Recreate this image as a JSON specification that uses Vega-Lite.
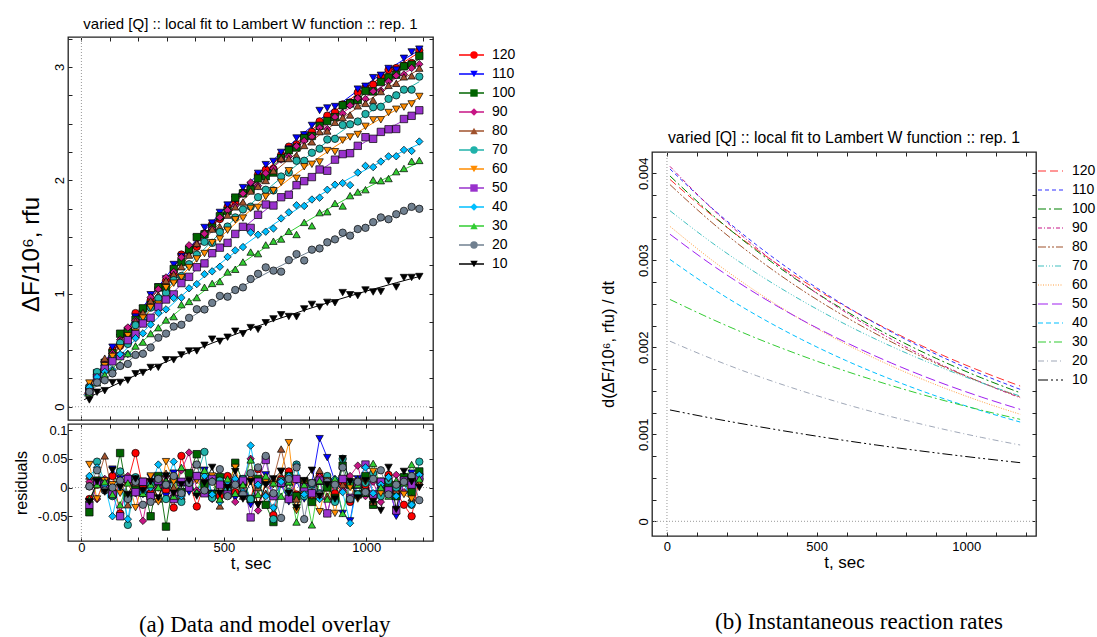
{
"$schema": "https://vega.github.io/schema/vega-lite/v6.json",
"background": "white",
"padding": {"left": 12, "top": 15, "right": 0, "bottom": 0},
"spacing": 82,
"resolve": {"scale": {"stroke": "independent", "fill": "independent", "shape": "independent", "strokeDash": "independent"}, "legend": {"stroke": "independent", "fill": "independent", "shape": "independent", "strokeDash": "independent"}},
"config": {
  "font": "Liberation Sans",
  "view": {"stroke": "#222", "strokeWidth": 1.3},
  "axis": {"domain": false, "grid": false, "ticks": true, "tickColor": "#222", "tickSize": -4, "tickWidth": 1, "labelFontSize": 13, "labelColor": "#000", "labelPadding": 6, "labelFlush": false, "labelOverlap": false, "titleFontSize": 17, "titleFontWeight": "normal", "titleColor": "#000", "labelFont": "Liberation Sans", "titleFont": "Liberation Sans"},
  "title": {"fontSize": 15, "fontWeight": "normal", "font": "Liberation Sans", "color": "#000"},
  "legend": {"labelFontSize": 14, "labelColor": "#000", "labelFont": "Liberation Sans", "padding": 0, "rowPadding": 5, "clipHeight": 14}
},
"datasets": {
"obs": [
{"s":120,"t":28,"y":0.16,"r":-0.02},{"s":120,"t":55,"y":0.286,"r":0.005},{"s":120,"t":82,"y":0.394,"r":0.012},{"s":120,"t":109,"y":0.502,"r":0.02},{"s":120,"t":136,"y":0.538,"r":-0.045},{"s":120,"t":163,"y":0.685,"r":0.01},{"s":120,"t":190,"y":0.827,"r":0.06},{"s":120,"t":216,"y":0.858,"r":0},{"s":120,"t":243,"y":0.94,"r":-0.01},{"s":120,"t":270,"y":1.05,"r":0.015},{"s":120,"t":297,"y":1.115,"r":-0.005},{"s":120,"t":324,"y":1.169,"r":-0.035},{"s":120,"t":351,"y":1.344,"r":0.055},{"s":120,"t":378,"y":1.377,"r":0.01},{"s":120,"t":405,"y":1.412,"r":-0.033},{"s":120,"t":432,"y":1.531,"r":0.008},{"s":120,"t":459,"y":1.613,"r":0.012},{"s":120,"t":486,"y":1.658,"r":-0.015},{"s":120,"t":513,"y":1.764,"r":0.02},{"s":120,"t":540,"y":1.808,"r":-0.008},{"s":120,"t":567,"y":1.892,"r":0.005},{"s":120,"t":594,"y":1.932,"r":-0.02},{"s":120,"t":620,"y":2.05,"r":0.032},{"s":120,"t":647,"y":2.093,"r":0.01},{"s":120,"t":674,"y":2.1,"r":-0.048},{"s":120,"t":701,"y":2.223,"r":0.015},{"s":120,"t":728,"y":2.297,"r":0.028},{"s":120,"t":755,"y":2.317,"r":-0.012},{"s":120,"t":782,"y":2.395,"r":0.006},{"s":120,"t":809,"y":2.427,"r":-0.018},{"s":120,"t":836,"y":2.52,"r":0.02},{"s":120,"t":863,"y":2.571,"r":0.015},{"s":120,"t":890,"y":2.601,"r":-0.01},{"s":120,"t":917,"y":2.67,"r":0.008},{"s":120,"t":943,"y":2.687,"r":-0.025},{"s":120,"t":970,"y":2.775,"r":0.012},{"s":120,"t":997,"y":2.817,"r":0.004},{"s":120,"t":1024,"y":2.845,"r":-0.015},{"s":120,"t":1051,"y":2.916,"r":0.01},{"s":120,"t":1078,"y":2.975,"r":0.022},{"s":120,"t":1105,"y":2.991,"r":-0.008},{"s":120,"t":1132,"y":3.013,"r":-0.03},{"s":120,"t":1159,"y":3.036,"r":-0.05},{"s":120,"t":1186,"y":3.145,"r":0.015},
{"s":110,"t":28,"y":0.159,"r":-0.025},{"s":110,"t":55,"y":0.297,"r":0.01},{"s":110,"t":82,"y":0.386,"r":-0.005},{"s":110,"t":109,"y":0.526,"r":0.032},{"s":110,"t":136,"y":0.612,"r":0.015},{"s":110,"t":163,"y":0.671,"r":-0.02},{"s":110,"t":190,"y":0.792,"r":0.008},{"s":110,"t":216,"y":0.866,"r":-0.012},{"s":110,"t":243,"y":0.989,"r":0.018},{"s":110,"t":270,"y":1.058,"r":0},{"s":110,"t":297,"y":1.129,"r":-0.015},{"s":110,"t":324,"y":1.256,"r":0.025},{"s":110,"t":351,"y":1.327,"r":0.01},{"s":110,"t":378,"y":1.388,"r":-0.008},{"s":110,"t":405,"y":1.495,"r":0.02},{"s":110,"t":432,"y":1.583,"r":0.03},{"s":110,"t":459,"y":1.622,"r":-0.01},{"s":110,"t":486,"y":1.716,"r":0.012},{"s":110,"t":513,"y":1.781,"r":0.005},{"s":110,"t":540,"y":1.83,"r":-0.018},{"s":110,"t":567,"y":1.935,"r":0.015},{"s":110,"t":594,"y":1.955,"r":-0.03},{"s":110,"t":620,"y":2.061,"r":0.01},{"s":110,"t":647,"y":2.138,"r":0.022},{"s":110,"t":674,"y":2.166,"r":-0.015},{"s":110,"t":701,"y":2.246,"r":0.005},{"s":110,"t":728,"y":2.276,"r":-0.025},{"s":110,"t":755,"y":2.373,"r":0.012},{"s":110,"t":782,"y":2.401,"r":-0.02},{"s":110,"t":809,"y":2.484,"r":0.008},{"s":110,"t":836,"y":2.616,"r":0.085},{"s":110,"t":863,"y":2.638,"r":0.052},{"s":110,"t":890,"y":2.651,"r":0.01},{"s":110,"t":917,"y":2.646,"r":-0.045},{"s":110,"t":943,"y":2.683,"r":-0.058},{"s":110,"t":970,"y":2.805,"r":0.015},{"s":110,"t":997,"y":2.83,"r":-0.01},{"s":110,"t":1024,"y":2.906,"r":0.02},{"s":110,"t":1051,"y":2.927,"r":-0.005},{"s":110,"t":1078,"y":2.987,"r":0.01},{"s":110,"t":1105,"y":2.973,"r":-0.05},{"s":110,"t":1132,"y":3.077,"r":0.012},{"s":110,"t":1159,"y":3.133,"r":0.025},{"s":110,"t":1186,"y":3.158,"r":0.008},
{"s":100,"t":28,"y":0.138,"r":-0.043},{"s":100,"t":55,"y":0.294,"r":0.012},{"s":100,"t":82,"y":0.388,"r":0.005},{"s":100,"t":109,"y":0.474,"r":-0.01},{"s":100,"t":136,"y":0.645,"r":0.06},{"s":100,"t":163,"y":0.661,"r":-0.015},{"s":100,"t":190,"y":0.768,"r":0},{"s":100,"t":216,"y":0.869,"r":0.01},{"s":100,"t":243,"y":0.9,"r":-0.05},{"s":100,"t":270,"y":1.054,"r":0.02},{"s":100,"t":297,"y":1.05,"r":-0.068},{"s":100,"t":324,"y":1.217,"r":0.015},{"s":100,"t":351,"y":1.278,"r":-0.008},{"s":100,"t":378,"y":1.388,"r":0.025},{"s":100,"t":405,"y":1.498,"r":0.058},{"s":100,"t":432,"y":1.522,"r":0.005},{"s":100,"t":459,"y":1.582,"r":-0.012},{"s":100,"t":486,"y":1.682,"r":0.018},{"s":100,"t":513,"y":1.729,"r":-0.005},{"s":100,"t":540,"y":1.847,"r":0.043},{"s":100,"t":567,"y":1.884,"r":0.01},{"s":100,"t":594,"y":1.918,"r":-0.02},{"s":100,"t":620,"y":2.016,"r":0.015},{"s":100,"t":647,"y":2.035,"r":-0.03},{"s":100,"t":674,"y":2.068,"r":-0.06},{"s":100,"t":701,"y":2.195,"r":0.008},{"s":100,"t":728,"y":2.265,"r":0.02},{"s":100,"t":755,"y":2.289,"r":-0.015},{"s":100,"t":782,"y":2.372,"r":0.01},{"s":100,"t":809,"y":2.391,"r":-0.025},{"s":100,"t":836,"y":2.481,"r":0.012},{"s":100,"t":863,"y":2.523,"r":0},{"s":100,"t":890,"y":2.558,"r":-0.018},{"s":100,"t":917,"y":2.662,"r":0.038},{"s":100,"t":943,"y":2.678,"r":0.005},{"s":100,"t":970,"y":2.709,"r":-0.012},{"s":100,"t":997,"y":2.789,"r":0.02},{"s":100,"t":1024,"y":2.784,"r":-0.03},{"s":100,"t":1051,"y":2.868,"r":0.01},{"s":100,"t":1078,"y":2.908,"r":0.005},{"s":100,"t":1105,"y":2.932,"r":-0.015},{"s":100,"t":1132,"y":3.006,"r":0.018},{"s":100,"t":1159,"y":3.021,"r":-0.008},{"s":100,"t":1186,"y":3.098,"r":0.028},
{"s":90,"t":28,"y":0.192,"r":0.01},{"s":90,"t":55,"y":0.264,"r":-0.02},{"s":90,"t":82,"y":0.4,"r":0.015},{"s":90,"t":109,"y":0.472,"r":-0.015},{"s":90,"t":136,"y":0.593,"r":0.005},{"s":90,"t":163,"y":0.7,"r":0.02},{"s":90,"t":190,"y":0.761,"r":-0.01},{"s":90,"t":216,"y":0.805,"r":-0.058},{"s":90,"t":243,"y":0.966,"r":0.012},{"s":90,"t":270,"y":1.038,"r":0},{"s":90,"t":297,"y":1.142,"r":0.02},{"s":90,"t":324,"y":1.19,"r":-0.015},{"s":90,"t":351,"y":1.319,"r":0.03},{"s":90,"t":378,"y":1.426,"r":0.061},{"s":90,"t":405,"y":1.436,"r":-0.005},{"s":90,"t":432,"y":1.528,"r":0.012},{"s":90,"t":459,"y":1.572,"r":-0.02},{"s":90,"t":486,"y":1.671,"r":0.01},{"s":90,"t":513,"y":1.735,"r":0.005},{"s":90,"t":540,"y":1.774,"r":-0.025},{"s":90,"t":567,"y":1.883,"r":0.015},{"s":90,"t":594,"y":1.98,"r":0.05},{"s":90,"t":620,"y":1.952,"r":-0.04},{"s":90,"t":647,"y":2.062,"r":0.008},{"s":90,"t":674,"y":2.104,"r":-0.012},{"s":90,"t":701,"y":2.183,"r":0.01},{"s":90,"t":728,"y":2.209,"r":-0.02},{"s":90,"t":755,"y":2.301,"r":0.015},{"s":90,"t":782,"y":2.347,"r":0.005},{"s":90,"t":809,"y":2.384,"r":-0.01},{"s":90,"t":836,"y":2.463,"r":0.018},{"s":90,"t":863,"y":2.452,"r":-0.045},{"s":90,"t":890,"y":2.558,"r":0.01},{"s":90,"t":917,"y":2.589,"r":-0.005},{"s":90,"t":943,"y":2.661,"r":0.02},{"s":90,"t":970,"y":2.725,"r":0.038},{"s":90,"t":997,"y":2.718,"r":-0.015},{"s":90,"t":1024,"y":2.786,"r":0.01},{"s":90,"t":1051,"y":2.793,"r":-0.025},{"s":90,"t":1078,"y":2.873,"r":0.012},{"s":90,"t":1105,"y":2.925,"r":0.022},{"s":90,"t":1132,"y":2.934,"r":-0.008},{"s":90,"t":1159,"y":2.991,"r":0.01},{"s":90,"t":1186,"y":3.025,"r":0.005},
{"s":80,"t":28,"y":0.198,"r":0.02},{"s":80,"t":55,"y":0.286,"r":0.01},{"s":80,"t":82,"y":0.429,"r":0.055},{"s":80,"t":109,"y":0.46,"r":-0.012},{"s":80,"t":136,"y":0.585,"r":0.015},{"s":80,"t":163,"y":0.629,"r":-0.03},{"s":80,"t":190,"y":0.756,"r":0.008},{"s":80,"t":216,"y":0.831,"r":-0.005},{"s":80,"t":243,"y":0.935,"r":0.01},{"s":80,"t":270,"y":0.987,"r":-0.02},{"s":80,"t":297,"y":1.114,"r":0.025},{"s":80,"t":324,"y":1.17,"r":0},{"s":80,"t":351,"y":1.237,"r":-0.015},{"s":80,"t":378,"y":1.339,"r":0.012},{"s":80,"t":405,"y":1.442,"r":0.04},{"s":80,"t":432,"y":1.466,"r":-0.01},{"s":80,"t":459,"y":1.569,"r":0.018},{"s":80,"t":486,"y":1.587,"r":-0.032},{"s":80,"t":513,"y":1.692,"r":0.005},{"s":80,"t":540,"y":1.765,"r":0.01},{"s":80,"t":567,"y":1.808,"r":-0.015},{"s":80,"t":594,"y":1.905,"r":0.02},{"s":80,"t":620,"y":1.946,"r":0},{"s":80,"t":647,"y":1.998,"r":-0.01},{"s":80,"t":674,"y":2.084,"r":0.015},{"s":80,"t":701,"y":2.193,"r":0.067},{"s":80,"t":728,"y":2.192,"r":0.01},{"s":80,"t":755,"y":2.219,"r":-0.02},{"s":80,"t":782,"y":2.307,"r":0.012},{"s":80,"t":809,"y":2.339,"r":-0.008},{"s":80,"t":836,"y":2.429,"r":0.03},{"s":80,"t":863,"y":2.435,"r":-0.015},{"s":80,"t":890,"y":2.512,"r":0.01},{"s":80,"t":917,"y":2.554,"r":0.005},{"s":80,"t":943,"y":2.576,"r":-0.02},{"s":80,"t":970,"y":2.657,"r":0.015},{"s":80,"t":997,"y":2.679,"r":-0.01},{"s":80,"t":1024,"y":2.707,"r":-0.025},{"s":80,"t":1051,"y":2.783,"r":0.008},{"s":80,"t":1078,"y":2.838,"r":0.02},{"s":80,"t":1105,"y":2.856,"r":-0.005},{"s":80,"t":1132,"y":2.913,"r":0.012},{"s":80,"t":1159,"y":2.922,"r":-0.018},{"s":80,"t":1186,"y":2.99,"r":0.01},
{"s":70,"t":28,"y":0.172,"r":0.002},{"s":70,"t":55,"y":0.307,"r":0.045},{"s":70,"t":82,"y":0.363,"r":0.01},{"s":70,"t":109,"y":0.43,"r":-0.015},{"s":70,"t":136,"y":0.564,"r":0.028},{"s":70,"t":163,"y":0.555,"r":-0.065},{"s":70,"t":190,"y":0.721,"r":0.018},{"s":70,"t":216,"y":0.777,"r":-0.01},{"s":70,"t":243,"y":0.875,"r":0.005},{"s":70,"t":270,"y":0.958,"r":0.01},{"s":70,"t":297,"y":1.005,"r":-0.02},{"s":70,"t":324,"y":1.118,"r":0.015},{"s":70,"t":351,"y":1.155,"r":-0.025},{"s":70,"t":378,"y":1.259,"r":0.008},{"s":70,"t":405,"y":1.343,"r":0.02},{"s":70,"t":432,"y":1.456,"r":0.062},{"s":70,"t":459,"y":1.447,"r":-0.018},{"s":70,"t":486,"y":1.543,"r":0.012},{"s":70,"t":513,"y":1.591,"r":-0.005},{"s":70,"t":540,"y":1.672,"r":0.01},{"s":70,"t":567,"y":1.742,"r":0.015},{"s":70,"t":594,"y":1.767,"r":-0.02},{"s":70,"t":620,"y":1.851,"r":0.005},{"s":70,"t":647,"y":1.916,"r":0.01},{"s":70,"t":674,"y":1.91,"r":-0.055},{"s":70,"t":701,"y":2.033,"r":0.012},{"s":70,"t":728,"y":2.068,"r":-0.008},{"s":70,"t":755,"y":2.172,"r":0.04},{"s":70,"t":782,"y":2.172,"r":-0.015},{"s":70,"t":809,"y":2.243,"r":0.005},{"s":70,"t":836,"y":2.279,"r":-0.01},{"s":70,"t":863,"y":2.36,"r":0.02},{"s":70,"t":890,"y":2.366,"r":-0.025},{"s":70,"t":917,"y":2.488,"r":0.05},{"s":70,"t":943,"y":2.494,"r":0.01},{"s":70,"t":970,"y":2.519,"r":-0.012},{"s":70,"t":997,"y":2.585,"r":0.008},{"s":70,"t":1024,"y":2.645,"r":0.025},{"s":70,"t":1051,"y":2.649,"r":-0.015},{"s":70,"t":1078,"y":2.719,"r":0.012},{"s":70,"t":1105,"y":2.75,"r":0},{"s":70,"t":1132,"y":2.8,"r":0.01},{"s":70,"t":1159,"y":2.8,"r":-0.03},{"s":70,"t":1186,"y":2.915,"r":0.045},
{"s":60,"t":28,"y":0.209,"r":0.04},{"s":60,"t":55,"y":0.239,"r":-0.02},{"s":60,"t":82,"y":0.362,"r":0.012},{"s":60,"t":109,"y":0.445,"r":0.005},{"s":60,"t":136,"y":0.52,"r":-0.01},{"s":60,"t":163,"y":0.627,"r":0.015},{"s":60,"t":190,"y":0.658,"r":-0.035},{"s":60,"t":216,"y":0.783,"r":0.008},{"s":60,"t":243,"y":0.876,"r":0.02},{"s":60,"t":270,"y":0.906,"r":-0.025},{"s":60,"t":297,"y":1.051,"r":0.045},{"s":60,"t":324,"y":1.091,"r":0.01},{"s":60,"t":351,"y":1.141,"r":-0.015},{"s":60,"t":378,"y":1.229,"r":0.005},{"s":60,"t":405,"y":1.305,"r":0.012},{"s":60,"t":432,"y":1.353,"r":-0.008},{"s":60,"t":459,"y":1.449,"r":0.02},{"s":60,"t":486,"y":1.481,"r":-0.01},{"s":60,"t":513,"y":1.559,"r":0.005},{"s":60,"t":540,"y":1.651,"r":0.035},{"s":60,"t":567,"y":1.666,"r":-0.012},{"s":60,"t":594,"y":1.752,"r":0.018},{"s":60,"t":620,"y":1.76,"r":-0.03},{"s":60,"t":647,"y":1.856,"r":0.01},{"s":60,"t":674,"y":1.907,"r":0.005},{"s":60,"t":701,"y":1.982,"r":0.028},{"s":60,"t":728,"y":2.084,"r":0.078},{"s":60,"t":755,"y":2.017,"r":-0.04},{"s":60,"t":782,"y":2.119,"r":0.01},{"s":60,"t":809,"y":2.141,"r":-0.015},{"s":60,"t":836,"y":2.161,"r":-0.042},{"s":60,"t":863,"y":2.262,"r":0.012},{"s":60,"t":890,"y":2.252,"r":-0.045},{"s":60,"t":917,"y":2.354,"r":0.015},{"s":60,"t":943,"y":2.382,"r":0},{"s":60,"t":970,"y":2.404,"r":-0.02},{"s":60,"t":997,"y":2.476,"r":0.01},{"s":60,"t":1024,"y":2.533,"r":0.028},{"s":60,"t":1051,"y":2.534,"r":-0.01},{"s":60,"t":1078,"y":2.598,"r":0.015},{"s":60,"t":1105,"y":2.627,"r":0.005},{"s":60,"t":1132,"y":2.646,"r":-0.012},{"s":60,"t":1159,"y":2.674,"r":-0.02},{"s":60,"t":1186,"y":2.74,"r":0.01},
{"s":50,"t":28,"y":0.132,"r":-0.03},{"s":50,"t":55,"y":0.256,"r":0.01},{"s":50,"t":82,"y":0.335,"r":0.005},{"s":50,"t":109,"y":0.401,"r":-0.012},{"s":50,"t":136,"y":0.447,"r":-0.05},{"s":50,"t":163,"y":0.588,"r":0.015},{"s":50,"t":190,"y":0.641,"r":-0.008},{"s":50,"t":216,"y":0.735,"r":0.01},{"s":50,"t":243,"y":0.786,"r":-0.015},{"s":50,"t":270,"y":0.883,"r":0.012},{"s":50,"t":297,"y":0.947,"r":0.005},{"s":50,"t":324,"y":0.992,"r":-0.02},{"s":50,"t":351,"y":1.092,"r":0.01},{"s":50,"t":378,"y":1.147,"r":0},{"s":50,"t":405,"y":1.232,"r":0.02},{"s":50,"t":432,"y":1.266,"r":-0.01},{"s":50,"t":459,"y":1.356,"r":0.015},{"s":50,"t":486,"y":1.405,"r":0.005},{"s":50,"t":513,"y":1.447,"r":-0.012},{"s":50,"t":540,"y":1.526,"r":0.008},{"s":50,"t":567,"y":1.589,"r":0.012},{"s":50,"t":594,"y":1.579,"r":-0.052},{"s":50,"t":620,"y":1.695,"r":0.01},{"s":50,"t":647,"y":1.786,"r":0.048},{"s":50,"t":674,"y":1.777,"r":-0.015},{"s":50,"t":701,"y":1.85,"r":0.008},{"s":50,"t":728,"y":1.872,"r":-0.02},{"s":50,"t":755,"y":1.957,"r":0.015},{"s":50,"t":782,"y":1.992,"r":0},{"s":50,"t":809,"y":2.028,"r":-0.01},{"s":50,"t":836,"y":2.095,"r":0.012},{"s":50,"t":863,"y":2.084,"r":-0.045},{"s":50,"t":890,"y":2.182,"r":0.008},{"s":50,"t":917,"y":2.231,"r":0.015},{"s":50,"t":943,"y":2.239,"r":-0.018},{"s":50,"t":970,"y":2.304,"r":0.005},{"s":50,"t":997,"y":2.38,"r":0.04},{"s":50,"t":1024,"y":2.366,"r":-0.012},{"s":50,"t":1051,"y":2.427,"r":0.01},{"s":50,"t":1078,"y":2.45,"r":-0.005},{"s":50,"t":1105,"y":2.453,"r":-0.04},{"s":50,"t":1132,"y":2.541,"r":0.012},{"s":50,"t":1159,"y":2.569,"r":0.005},{"s":50,"t":1186,"y":2.618,"r":0.018},
{"s":40,"t":28,"y":0.172,"r":0.02},{"s":40,"t":55,"y":0.262,"r":0.035},{"s":40,"t":82,"y":0.308,"r":0.005},{"s":40,"t":109,"y":0.328,"r":-0.05},{"s":40,"t":136,"y":0.463,"r":0.01},{"s":40,"t":163,"y":0.466,"r":-0.055},{"s":40,"t":190,"y":0.605,"r":0.015},{"s":40,"t":216,"y":0.648,"r":-0.01},{"s":40,"t":243,"y":0.726,"r":0},{"s":40,"t":270,"y":0.829,"r":0.04},{"s":40,"t":297,"y":0.86,"r":0.008},{"s":40,"t":324,"y":0.96,"r":0.045},{"s":40,"t":351,"y":0.963,"r":-0.015},{"s":40,"t":378,"y":1.046,"r":0.01},{"s":40,"t":405,"y":1.083,"r":-0.01},{"s":40,"t":432,"y":1.171,"r":0.02},{"s":40,"t":459,"y":1.196,"r":-0.012},{"s":40,"t":486,"y":1.236,"r":-0.025},{"s":40,"t":513,"y":1.323,"r":0.01},{"s":40,"t":540,"y":1.381,"r":0.015},{"s":40,"t":567,"y":1.41,"r":-0.008},{"s":40,"t":594,"y":1.539,"r":0.073},{"s":40,"t":620,"y":1.519,"r":0.005},{"s":40,"t":647,"y":1.546,"r":-0.015},{"s":40,"t":674,"y":1.574,"r":-0.035},{"s":40,"t":701,"y":1.663,"r":0.01},{"s":40,"t":728,"y":1.717,"r":0.02},{"s":40,"t":755,"y":1.779,"r":0.038},{"s":40,"t":782,"y":1.773,"r":-0.012},{"s":40,"t":809,"y":1.83,"r":0.005},{"s":40,"t":836,"y":1.846,"r":-0.02},{"s":40,"t":863,"y":1.916,"r":0.01},{"s":40,"t":890,"y":1.961,"r":0.015},{"s":40,"t":917,"y":1.975,"r":-0.008},{"s":40,"t":943,"y":1.957,"r":-0.062},{"s":40,"t":970,"y":2.068,"r":0.012},{"s":40,"t":997,"y":2.127,"r":0.035},{"s":40,"t":1024,"y":2.116,"r":-0.01},{"s":40,"t":1051,"y":2.165,"r":0.005},{"s":40,"t":1078,"y":2.211,"r":0.018},{"s":40,"t":1105,"y":2.212,"r":-0.015},{"s":40,"t":1132,"y":2.268,"r":0.01},{"s":40,"t":1159,"y":2.259,"r":-0.03},{"s":40,"t":1186,"y":2.342,"r":0.022},
{"s":30,"t":28,"y":0.121,"r":-0.02},{"s":30,"t":55,"y":0.211,"r":0.005},{"s":30,"t":82,"y":0.281,"r":0.01},{"s":30,"t":109,"y":0.324,"r":-0.012},{"s":30,"t":136,"y":0.371,"r":-0.03},{"s":30,"t":163,"y":0.469,"r":0.008},{"s":30,"t":190,"y":0.536,"r":0.015},{"s":30,"t":216,"y":0.571,"r":-0.01},{"s":30,"t":243,"y":0.646,"r":0.005},{"s":30,"t":270,"y":0.698,"r":0},{"s":30,"t":297,"y":0.766,"r":0.012},{"s":30,"t":324,"y":0.796,"r":-0.015},{"s":30,"t":351,"y":0.902,"r":0.035},{"s":30,"t":378,"y":0.93,"r":0.01},{"s":30,"t":405,"y":0.964,"r":-0.008},{"s":30,"t":432,"y":1.055,"r":0.03},{"s":30,"t":459,"y":1.089,"r":0.012},{"s":30,"t":486,"y":1.106,"r":-0.02},{"s":30,"t":513,"y":1.19,"r":0.015},{"s":30,"t":540,"y":1.214,"r":-0.01},{"s":30,"t":567,"y":1.278,"r":0.005},{"s":30,"t":594,"y":1.366,"r":0.048},{"s":30,"t":620,"y":1.352,"r":-0.012},{"s":30,"t":647,"y":1.429,"r":0.02},{"s":30,"t":674,"y":1.462,"r":0.008},{"s":30,"t":701,"y":1.481,"r":-0.015},{"s":30,"t":728,"y":1.549,"r":0.01},{"s":30,"t":755,"y":1.521,"r":-0.06},{"s":30,"t":782,"y":1.628,"r":0.005},{"s":30,"t":809,"y":1.598,"r":-0.065},{"s":30,"t":836,"y":1.714,"r":0.012},{"s":30,"t":863,"y":1.722,"r":-0.02},{"s":30,"t":890,"y":1.796,"r":0.015},{"s":30,"t":917,"y":1.773,"r":-0.045},{"s":30,"t":943,"y":1.864,"r":0.01},{"s":30,"t":970,"y":1.896,"r":0.005},{"s":30,"t":997,"y":1.917,"r":-0.01},{"s":30,"t":1024,"y":2.003,"r":0.042},{"s":30,"t":1051,"y":1.996,"r":0},{"s":30,"t":1078,"y":2.015,"r":-0.015},{"s":30,"t":1105,"y":2.076,"r":0.012},{"s":30,"t":1132,"y":2.104,"r":0.008},{"s":30,"t":1159,"y":2.168,"r":0.04},{"s":30,"t":1186,"y":2.175,"r":0.015},
{"s":20,"t":28,"y":0.132,"r":0.002},{"s":20,"t":55,"y":0.215,"r":0.03},{"s":20,"t":82,"y":0.234,"r":-0.005},{"s":20,"t":109,"y":0.294,"r":0},{"s":20,"t":136,"y":0.36,"r":0.012},{"s":20,"t":163,"y":0.378,"r":-0.02},{"s":20,"t":190,"y":0.458,"r":0.01},{"s":20,"t":216,"y":0.468,"r":-0.03},{"s":20,"t":243,"y":0.523,"r":-0.025},{"s":20,"t":270,"y":0.61,"r":0.015},{"s":20,"t":297,"y":0.646,"r":0.005},{"s":20,"t":324,"y":0.708,"r":0.02},{"s":20,"t":351,"y":0.724,"r":-0.01},{"s":20,"t":378,"y":0.785,"r":0.008},{"s":20,"t":405,"y":0.861,"r":0.04},{"s":20,"t":432,"y":0.859,"r":-0.005},{"s":20,"t":459,"y":0.917,"r":0.01},{"s":20,"t":486,"y":0.979,"r":0.032},{"s":20,"t":513,"y":0.972,"r":-0.015},{"s":20,"t":540,"y":1.031,"r":0.005},{"s":20,"t":567,"y":1.054,"r":-0.012},{"s":20,"t":594,"y":1.128,"r":0.025},{"s":20,"t":620,"y":1.174,"r":0.035},{"s":20,"t":647,"y":1.231,"r":0.055},{"s":20,"t":674,"y":1.202,"r":-0.01},{"s":20,"t":701,"y":1.193,"r":-0.053},{"s":20,"t":728,"y":1.295,"r":0.015},{"s":20,"t":755,"y":1.348,"r":0.035},{"s":20,"t":782,"y":1.292,"r":-0.055},{"s":20,"t":809,"y":1.387,"r":0.008},{"s":20,"t":836,"y":1.398,"r":-0.012},{"s":20,"t":863,"y":1.452,"r":0.01},{"s":20,"t":890,"y":1.478,"r":0.005},{"s":20,"t":917,"y":1.537,"r":0.035},{"s":20,"t":943,"y":1.511,"r":-0.02},{"s":20,"t":970,"y":1.569,"r":0.01},{"s":20,"t":997,"y":1.58,"r":-0.008},{"s":20,"t":1024,"y":1.63,"r":0.015},{"s":20,"t":1051,"y":1.672,"r":0.03},{"s":20,"t":1078,"y":1.656,"r":-0.012},{"s":20,"t":1105,"y":1.7,"r":0.005},{"s":20,"t":1132,"y":1.73,"r":0.01},{"s":20,"t":1159,"y":1.765,"r":0.02},{"s":20,"t":1186,"y":1.748,"r":-0.022},
{"s":10,"t":28,"y":0.06,"r":-0.025},{"s":10,"t":55,"y":0.128,"r":0.01},{"s":10,"t":82,"y":0.142,"r":-0.008},{"s":10,"t":109,"y":0.213,"r":0.03},{"s":10,"t":136,"y":0.215,"r":0},{"s":10,"t":163,"y":0.234,"r":-0.012},{"s":10,"t":190,"y":0.291,"r":0.015},{"s":10,"t":216,"y":0.302,"r":-0.005},{"s":10,"t":243,"y":0.347,"r":0.01},{"s":10,"t":270,"y":0.348,"r":-0.018},{"s":10,"t":297,"y":0.415,"r":0.02},{"s":10,"t":324,"y":0.414,"r":-0.01},{"s":10,"t":351,"y":0.458,"r":0.005},{"s":10,"t":378,"y":0.492,"r":0.012},{"s":10,"t":405,"y":0.493,"r":-0.015},{"s":10,"t":432,"y":0.543,"r":0.008},{"s":10,"t":459,"y":0.597,"r":0.035},{"s":10,"t":486,"y":0.578,"r":-0.01},{"s":10,"t":513,"y":0.614,"r":0},{"s":10,"t":540,"y":0.667,"r":0.028},{"s":10,"t":567,"y":0.645,"r":-0.02},{"s":10,"t":594,"y":0.699,"r":0.01},{"s":10,"t":620,"y":0.683,"r":-0.03},{"s":10,"t":647,"y":0.742,"r":0.005},{"s":10,"t":674,"y":0.776,"r":0.015},{"s":10,"t":701,"y":0.812,"r":0.028},{"s":10,"t":728,"y":0.797,"r":-0.01},{"s":10,"t":755,"y":0.794,"r":-0.035},{"s":10,"t":782,"y":0.864,"r":0.012},{"s":10,"t":809,"y":0.904,"r":0.03},{"s":10,"t":836,"y":0.88,"r":-0.015},{"s":10,"t":863,"y":0.922,"r":0.005},{"s":10,"t":890,"y":0.918,"r":-0.02},{"s":10,"t":917,"y":1.008,"r":0.05},{"s":10,"t":943,"y":0.989,"r":0.01},{"s":10,"t":970,"y":0.981,"r":-0.018},{"s":10,"t":997,"y":1.031,"r":0.012},{"s":10,"t":1024,"y":1.013,"r":-0.025},{"s":10,"t":1051,"y":1.017,"r":-0.04},{"s":10,"t":1078,"y":1.111,"r":0.035},{"s":10,"t":1105,"y":1.057,"r":-0.038},{"s":10,"t":1132,"y":1.141,"r":0.028},{"s":10,"t":1159,"y":1.142,"r":0.01},{"s":10,"t":1186,"y":1.15,"r":0}
],
"fit": [
{"q":"120","t":10,"f":0.11},{"q":"120","t":28,"f":0.18},{"q":"120","t":136,"f":0.583},{"q":"120","t":243,"f":0.95},{"q":"120","t":351,"f":1.289},{"q":"120","t":459,"f":1.601},{"q":"120","t":567,"f":1.887},{"q":"120","t":674,"f":2.148},{"q":"120","t":782,"f":2.389},{"q":"120","t":890,"f":2.611},{"q":"120","t":997,"f":2.813},{"q":"120","t":1105,"f":2.999},{"q":"120","t":1186,"f":3.13},
{"q":"110","t":10,"f":0.111},{"q":"110","t":28,"f":0.184},{"q":"110","t":136,"f":0.597},{"q":"110","t":243,"f":0.971},{"q":"110","t":351,"f":1.317},{"q":"110","t":459,"f":1.632},{"q":"110","t":567,"f":1.92},{"q":"110","t":674,"f":2.181},{"q":"110","t":782,"f":2.421},{"q":"110","t":890,"f":2.641},{"q":"110","t":997,"f":2.84},{"q":"110","t":1105,"f":3.023},{"q":"110","t":1186,"f":3.15},
{"q":"100","t":10,"f":0.11},{"q":"100","t":28,"f":0.181},{"q":"100","t":136,"f":0.585},{"q":"100","t":243,"f":0.95},{"q":"100","t":351,"f":1.286},{"q":"100","t":459,"f":1.594},{"q":"100","t":567,"f":1.874},{"q":"100","t":674,"f":2.128},{"q":"100","t":782,"f":2.362},{"q":"100","t":890,"f":2.576},{"q":"100","t":997,"f":2.769},{"q":"100","t":1105,"f":2.947},{"q":"100","t":1186,"f":3.07},
{"q":"90","t":10,"f":0.11},{"q":"90","t":28,"f":0.182},{"q":"90","t":136,"f":0.588},{"q":"90","t":243,"f":0.954},{"q":"90","t":351,"f":1.289},{"q":"90","t":459,"f":1.592},{"q":"90","t":567,"f":1.868},{"q":"90","t":674,"f":2.116},{"q":"90","t":782,"f":2.342},{"q":"90","t":890,"f":2.548},{"q":"90","t":997,"f":2.733},{"q":"90","t":1105,"f":2.903},{"q":"90","t":1186,"f":3.02},
{"q":"80","t":10,"f":0.109},{"q":"80","t":28,"f":0.178},{"q":"80","t":136,"f":0.57},{"q":"80","t":243,"f":0.925},{"q":"80","t":351,"f":1.252},{"q":"80","t":459,"f":1.551},{"q":"80","t":567,"f":1.823},{"q":"80","t":674,"f":2.069},{"q":"80","t":782,"f":2.295},{"q":"80","t":890,"f":2.502},{"q":"80","t":997,"f":2.689},{"q":"80","t":1105,"f":2.861},{"q":"80","t":1186,"f":2.98},
{"q":"70","t":10,"f":0.106},{"q":"70","t":28,"f":0.17},{"q":"70","t":136,"f":0.536},{"q":"70","t":243,"f":0.87},{"q":"70","t":351,"f":1.18},{"q":"70","t":459,"f":1.465},{"q":"70","t":567,"f":1.727},{"q":"70","t":674,"f":1.965},{"q":"70","t":782,"f":2.187},{"q":"70","t":890,"f":2.391},{"q":"70","t":997,"f":2.577},{"q":"70","t":1105,"f":2.75},{"q":"70","t":1186,"f":2.87},
{"q":"60","t":10,"f":0.106},{"q":"60","t":28,"f":0.169},{"q":"60","t":136,"f":0.53},{"q":"60","t":243,"f":0.856},{"q":"60","t":351,"f":1.156},{"q":"60","t":459,"f":1.429},{"q":"60","t":567,"f":1.678},{"q":"60","t":674,"f":1.902},{"q":"60","t":782,"f":2.109},{"q":"60","t":890,"f":2.297},{"q":"60","t":997,"f":2.466},{"q":"60","t":1105,"f":2.622},{"q":"60","t":1186,"f":2.73},
{"q":"50","t":10,"f":0.103},{"q":"50","t":28,"f":0.162},{"q":"50","t":136,"f":0.497},{"q":"50","t":243,"f":0.801},{"q":"50","t":351,"f":1.082},{"q":"50","t":459,"f":1.341},{"q":"50","t":567,"f":1.577},{"q":"50","t":674,"f":1.792},{"q":"50","t":782,"f":1.992},{"q":"50","t":890,"f":2.174},{"q":"50","t":997,"f":2.34},{"q":"50","t":1105,"f":2.493},{"q":"50","t":1186,"f":2.6},
{"q":"40","t":10,"f":0.1},{"q":"40","t":28,"f":0.152},{"q":"40","t":136,"f":0.453},{"q":"40","t":243,"f":0.726},{"q":"40","t":351,"f":0.978},{"q":"40","t":459,"f":1.208},{"q":"40","t":567,"f":1.418},{"q":"40","t":674,"f":1.609},{"q":"40","t":782,"f":1.785},{"q":"40","t":890,"f":1.946},{"q":"40","t":997,"f":2.092},{"q":"40","t":1105,"f":2.227},{"q":"40","t":1186,"f":2.32},
{"q":"30","t":10,"f":0.095},{"q":"30","t":28,"f":0.141},{"q":"30","t":136,"f":0.401},{"q":"30","t":243,"f":0.641},{"q":"30","t":351,"f":0.867},{"q":"30","t":459,"f":1.077},{"q":"30","t":567,"f":1.273},{"q":"30","t":674,"f":1.454},{"q":"30","t":782,"f":1.623},{"q":"30","t":890,"f":1.781},{"q":"30","t":997,"f":1.927},{"q":"30","t":1105,"f":2.064},{"q":"30","t":1186,"f":2.16},
{"q":"20","t":10,"f":0.091},{"q":"20","t":28,"f":0.13},{"q":"20","t":136,"f":0.348},{"q":"20","t":243,"f":0.548},{"q":"20","t":351,"f":0.734},{"q":"20","t":459,"f":0.907},{"q":"20","t":567,"f":1.066},{"q":"20","t":674,"f":1.212},{"q":"20","t":782,"f":1.347},{"q":"20","t":890,"f":1.473},{"q":"20","t":997,"f":1.588},{"q":"20","t":1105,"f":1.695},{"q":"20","t":1186,"f":1.77},
{"q":"10","t":10,"f":0.063},{"q":"10","t":28,"f":0.085},{"q":"10","t":136,"f":0.215},{"q":"10","t":243,"f":0.337},{"q":"10","t":351,"f":0.453},{"q":"10","t":459,"f":0.562},{"q":"10","t":567,"f":0.665},{"q":"10","t":674,"f":0.761},{"q":"10","t":782,"f":0.852},{"q":"10","t":890,"f":0.938},{"q":"10","t":997,"f":1.019},{"q":"10","t":1105,"f":1.095},{"q":"10","t":1186,"f":1.15}
],
"rate": [
{"k":"120","t":10,"v":0.00393},{"k":"120","t":150,"v":0.003517},{"k":"120","t":300,"v":0.003123},{"k":"120","t":450,"v":0.002773},{"k":"120","t":600,"v":0.002462},{"k":"120","t":750,"v":0.002186},{"k":"120","t":900,"v":0.001941},{"k":"120","t":1050,"v":0.001724},{"k":"120","t":1180,"v":0.001555},
{"k":"110","t":10,"v":0.00405},{"k":"110","t":150,"v":0.003601},{"k":"110","t":300,"v":0.003175},{"k":"110","t":450,"v":0.0028},{"k":"110","t":600,"v":0.002468},{"k":"110","t":750,"v":0.002176},{"k":"110","t":900,"v":0.001919},{"k":"110","t":1050,"v":0.001692},{"k":"110","t":1180,"v":0.001517},
{"k":"100","t":10,"v":0.00397},{"k":"100","t":150,"v":0.003527},{"k":"100","t":300,"v":0.003108},{"k":"100","t":450,"v":0.002738},{"k":"100","t":600,"v":0.002412},{"k":"100","t":750,"v":0.002125},{"k":"100","t":900,"v":0.001872},{"k":"100","t":1050,"v":0.00165},{"k":"100","t":1180,"v":0.001478},
{"k":"90","t":10,"v":0.00408},{"k":"90","t":150,"v":0.003596},{"k":"90","t":300,"v":0.003141},{"k":"90","t":450,"v":0.002743},{"k":"90","t":600,"v":0.002396},{"k":"90","t":750,"v":0.002093},{"k":"90","t":900,"v":0.001828},{"k":"90","t":1050,"v":0.001597},{"k":"90","t":1180,"v":0.00142},
{"k":"80","t":10,"v":0.00387},{"k":"80","t":150,"v":0.003435},{"k":"80","t":300,"v":0.003024},{"k":"80","t":450,"v":0.002661},{"k":"80","t":600,"v":0.002343},{"k":"80","t":750,"v":0.002062},{"k":"80","t":900,"v":0.001815},{"k":"80","t":1050,"v":0.001597},{"k":"80","t":1180,"v":0.00143},
{"k":"70","t":10,"v":0.00357},{"k":"70","t":150,"v":0.003203},{"k":"70","t":300,"v":0.002851},{"k":"70","t":450,"v":0.002538},{"k":"70","t":600,"v":0.002258},{"k":"70","t":750,"v":0.00201},{"k":"70","t":900,"v":0.00179},{"k":"70","t":1050,"v":0.001593},{"k":"70","t":1180,"v":0.00144},
{"k":"60","t":10,"v":0.00339},{"k":"60","t":150,"v":0.003003},{"k":"60","t":300,"v":0.002637},{"k":"60","t":450,"v":0.002315},{"k":"60","t":600,"v":0.002033},{"k":"60","t":750,"v":0.001785},{"k":"60","t":900,"v":0.001568},{"k":"60","t":1050,"v":0.001377},{"k":"60","t":1180,"v":0.00123},
{"k":"50","t":10,"v":0.0033},{"k":"50","t":150,"v":0.002948},{"k":"50","t":300,"v":0.002613},{"k":"50","t":450,"v":0.002316},{"k":"50","t":600,"v":0.002053},{"k":"50","t":750,"v":0.001819},{"k":"50","t":900,"v":0.001612},{"k":"50","t":1050,"v":0.001429},{"k":"50","t":1180,"v":0.001287},
{"k":"40","t":10,"v":0.00301},{"k":"40","t":150,"v":0.00268},{"k":"40","t":300,"v":0.002367},{"k":"40","t":450,"v":0.00209},{"k":"40","t":600,"v":0.001845},{"k":"40","t":750,"v":0.00163},{"k":"40","t":900,"v":0.001439},{"k":"40","t":1050,"v":0.001271},{"k":"40","t":1180,"v":0.001141},
{"k":"30","t":10,"v":0.00255},{"k":"30","t":150,"v":0.002324},{"k":"30","t":300,"v":0.002103},{"k":"30","t":450,"v":0.001904},{"k":"30","t":600,"v":0.001723},{"k":"30","t":750,"v":0.00156},{"k":"30","t":900,"v":0.001412},{"k":"30","t":1050,"v":0.001278},{"k":"30","t":1180,"v":0.001172},
{"k":"20","t":10,"v":0.00207},{"k":"20","t":150,"v":0.001868},{"k":"20","t":300,"v":0.001673},{"k":"20","t":450,"v":0.001499},{"k":"20","t":600,"v":0.001342},{"k":"20","t":750,"v":0.001202},{"k":"20","t":900,"v":0.001077},{"k":"20","t":1050,"v":0.000965},{"k":"20","t":1180,"v":0.000877},
{"k":"10","t":10,"v":0.00128},{"k":"10","t":150,"v":0.001185},{"k":"10","t":300,"v":0.001092},{"k":"10","t":450,"v":0.001006},{"k":"10","t":600,"v":0.000926},{"k":"10","t":750,"v":0.000853},{"k":"10","t":900,"v":0.000786},{"k":"10","t":1050,"v":0.000724},{"k":"10","t":1180,"v":0.000674}
]
},
"hconcat": [
{
 "spacing": 0,
 "resolve": {"scale": {"stroke": "independent", "fill": "independent", "shape": "independent"}, "legend": {"stroke": "independent", "fill": "independent", "shape": "independent"}},
 "title": {"text": "(a) Data and model overlay", "orient": "bottom", "anchor": "middle", "font": "Liberation Serif", "fontSize": 23, "offset": 42},
 "vconcat": [
  {
   "width": 365, "height": 383,
   "title": {"text": "varied [Q] :: local fit to Lambert W function :: rep. 1", "offset": 5, "fontSize": 15},
   "layer": [
    {"data": {"values": [{}]}, "mark": {"type": "rule", "color": "#999", "strokeDash": [1, 2], "strokeWidth": 1},
     "encoding": {"x": {"datum": 0, "type": "quantitative", "scale": {"domain": [-47, 1234], "nice": false, "zero": false},
       "axis": {"orient": "top", "values": [0,100,200,300,400,500,600,700,800,900,1000,1100,1200], "labels": false, "title": null}}}},
    {"data": {"values": [{}]}, "mark": {"type": "rule", "color": "#999", "strokeDash": [1, 2], "strokeWidth": 1},
     "encoding": {"y": {"datum": 0, "type": "quantitative", "scale": {"domain": [-0.117, 3.265], "nice": false, "zero": false},
       "axis": {"orient": "right", "values": [0,0.25,0.5,0.75,1,1.25,1.5,1.75,2,2.25,2.5,2.75,3,3.25], "labels": false, "title": null}}}},
    {"data": {"name": "fit"}, "mark": {"type": "line", "interpolate": "monotone", "strokeWidth": 1},
     "encoding": {
      "x": {"field": "t", "type": "quantitative", "scale": {"domain": [-47, 1234], "nice": false, "zero": false}, "axis": null},
      "y": {"field": "f", "type": "quantitative", "scale": {"domain": [-0.117, 3.265], "nice": false, "zero": false}, "axis": null},
      "stroke": {"field": "q", "type": "nominal",
        "scale": {"domain": ["120","110","100","90","80","70","60","50","40","30","20","10"], "range": ["#ff0000","#0000ff","#006400","#c71585","#a0522d","#20b2aa","#ff8c00","#9932cc","#00bfff","#32cd32","#708090","#000000"]},
        "legend": {"orient": "none", "legendX": 390, "legendY": 11, "title": null, "symbolType": "stroke", "symbolSize": 625, "symbolStrokeWidth": 1.5, "labelOffset": 7, "labelFontSize": 14, "rowPadding": 5, "clipHeight": 14, "padding": 0, "zindex": 0}}
     }},
    {"data": {"name": "obs"}, "mark": {"type": "point", "filled": true, "size": 55, "stroke": "#000", "strokeWidth": 0.7, "opacity": 1},
     "encoding": {
      "x": {"field": "t", "type": "quantitative", "scale": {"domain": [-47, 1234], "nice": false, "zero": false},
        "axis": {"orient": "bottom", "values": [0,100,200,300,400,500,600,700,800,900,1000,1100,1200], "labels": false, "title": null}},
      "y": {"field": "y", "type": "quantitative", "scale": {"domain": [-0.117, 3.265], "nice": false, "zero": false},
        "axis": {"orient": "left", "values": [0,0.25,0.5,0.75,1,1.25,1.5,1.75,2,2.25,2.5,2.75,3,3.25], "labelExpr": "datum.value % 1 === 0 ? format(datum.value, 'd') : ''", "labelAngle": 270, "labelAlign": "center", "labelBaseline": "bottom", "title": "ΔF/10⁶, rfu", "titleFontSize": 24, "titlePadding": 10, "titleY": 217}},
      "fill": {"field": "s", "type": "nominal",
        "scale": {"domain": [120,110,100,90,80,70,60,50,40,30,20,10], "range": ["#ff0000","#0000ff","#006400","#c71585","#a0522d","#20b2aa","#ff8c00","#9932cc","#00bfff","#32cd32","#708090","#000000"]},
        "legend": {"orient": "none", "legendX": 399, "legendY": 11, "title": null, "symbolSize": 55, "symbolStrokeColor": "#000", "symbolStrokeWidth": 0.7, "labelExpr": "' '", "labelOpacity": 0, "labelFontSize": 14, "rowPadding": 5, "clipHeight": 14, "padding": 0, "zindex": 1}},
      "shape": {"field": "s", "type": "nominal",
        "scale": {"domain": [120,110,100,90,80,70,60,50,40,30,20,10], "range": ["circle","triangle-down","square","diamond","triangle-up","circle","triangle-down","square","diamond","triangle-up","circle","triangle-down"]},
        "legend": {"orient": "none", "legendX": 399, "legendY": 11, "title": null, "symbolSize": 55, "symbolStrokeColor": "#000", "symbolStrokeWidth": 0.7, "labelExpr": "' '", "labelOpacity": 0, "labelFontSize": 14, "rowPadding": 5, "clipHeight": 14, "padding": 0, "zindex": 1}}
     }}
   ],
   "resolve": {"axis": {"x": "independent", "y": "independent"}}
  },
  {
   "width": 365, "height": 117,
   "layer": [
    {"data": {"values": [{}]}, "mark": {"type": "rule", "color": "#999", "strokeDash": [1, 2], "strokeWidth": 1},
     "encoding": {"x": {"datum": 0, "type": "quantitative", "scale": {"domain": [-47, 1234], "nice": false, "zero": false},
       "axis": {"orient": "top", "values": [0,100,200,300,400,500,600,700,800,900,1000,1100,1200], "labels": false, "title": null}}}},
    {"data": {"values": [{}]}, "mark": {"type": "rule", "color": "#999", "strokeDash": [1, 2], "strokeWidth": 1},
     "encoding": {"y": {"datum": 0, "type": "quantitative", "scale": {"domain": [-0.093, 0.1105], "nice": false, "zero": false},
       "axis": {"orient": "right", "values": [-0.05,0,0.05,0.1], "labels": false, "title": null}}}},
    {"data": {"name": "obs"}, "mark": {"type": "line", "strokeWidth": 0.9},
     "encoding": {
      "x": {"field": "t", "type": "quantitative", "scale": {"domain": [-47, 1234], "nice": false, "zero": false}, "axis": null},
      "y": {"field": "r", "type": "quantitative", "scale": {"domain": [-0.093, 0.1105], "nice": false, "zero": false}, "axis": null},
      "stroke": {"field": "s", "type": "nominal",
        "scale": {"domain": [120,110,100,90,80,70,60,50,40,30,20,10], "range": ["#ff0000","#0000ff","#006400","#c71585","#a0522d","#20b2aa","#ff8c00","#9932cc","#00bfff","#32cd32","#708090","#000000"]}, "legend": null}
     }},
    {"data": {"name": "obs"}, "mark": {"type": "point", "filled": true, "size": 55, "stroke": "#000", "strokeWidth": 0.7, "opacity": 1},
     "encoding": {
      "x": {"field": "t", "type": "quantitative", "scale": {"domain": [-47, 1234], "nice": false, "zero": false},
        "axis": {"orient": "bottom", "values": [0,100,200,300,400,500,600,700,800,900,1000,1100,1200], "labelExpr": "datum.value % 500 === 0 ? format(datum.value, 'd') : ''", "labelPadding": 4, "title": "t, sec", "titlePadding": 1}},
      "y": {"field": "r", "type": "quantitative", "scale": {"domain": [-0.093, 0.1105], "nice": false, "zero": false},
        "axis": {"orient": "left", "values": [-0.05,0,0.05,0.1], "labelExpr": "datum.value < 0 ? '-' + format(-datum.value, '~g') : format(datum.value, '~g')", "labelPadding": 5, "title": "residuals", "titleFontSize": 16, "titlePadding": 8}},
      "fill": {"field": "s", "type": "nominal",
        "scale": {"domain": [120,110,100,90,80,70,60,50,40,30,20,10], "range": ["#ff0000","#0000ff","#006400","#c71585","#a0522d","#20b2aa","#ff8c00","#9932cc","#00bfff","#32cd32","#708090","#000000"]}, "legend": null},
      "shape": {"field": "s", "type": "nominal",
        "scale": {"domain": [120,110,100,90,80,70,60,50,40,30,20,10], "range": ["circle","triangle-down","square","diamond","triangle-up","circle","triangle-down","square","diamond","triangle-up","circle","triangle-down"]}, "legend": null}
     }}
   ],
   "resolve": {"axis": {"x": "independent", "y": "independent"}}
  }
 ]
},
{
 "spacing": 0,
 "resolve": {"scale": {"stroke": "independent", "strokeDash": "independent"}, "legend": {"stroke": "independent", "strokeDash": "independent"}},
 "title": {"text": "(b) Instantaneous reaction rates", "orient": "bottom", "anchor": "middle", "font": "Liberation Serif", "fontSize": 23, "offset": 40, "dx": 11},
 "vconcat": [
  {"width": 384, "height": 92, "data": {"values": []}, "mark": "point", "view": {"stroke": null}},
  {
   "width": 384, "height": 384,
   "title": {"text": "varied [Q] :: local fit to Lambert W function :: rep. 1", "offset": 5, "fontSize": 15.8},
   "layer": [
    {"data": {"values": [{}]}, "mark": {"type": "rule", "color": "#999", "strokeDash": [1, 2], "strokeWidth": 1},
     "encoding": {"x": {"datum": 0, "type": "quantitative", "scale": {"domain": [-50, 1233], "nice": false, "zero": false},
       "axis": {"orient": "top", "values": [0,100,200,300,400,500,600,700,800,900,1000,1100,1200], "labels": false, "title": null}}}},
    {"data": {"values": [{}]}, "mark": {"type": "rule", "color": "#999", "strokeDash": [1, 2], "strokeWidth": 1},
     "encoding": {"y": {"datum": 0, "type": "quantitative", "scale": {"domain": [-0.000169, 0.004245], "nice": false, "zero": false},
       "axis": {"orient": "right", "values": [0,0.00025,0.0005,0.00075,0.001,0.00125,0.0015,0.00175,0.002,0.00225,0.0025,0.00275,0.003,0.00325,0.0035,0.00375,0.004], "labels": false, "title": null}}}},
    {"data": {"name": "rate"}, "mark": {"type": "line", "interpolate": "monotone", "strokeWidth": 1},
     "encoding": {
      "x": {"field": "t", "type": "quantitative", "scale": {"domain": [-50, 1233], "nice": false, "zero": false},
        "axis": {"orient": "bottom", "values": [0,100,200,300,400,500,600,700,800,900,1000,1100,1200], "labelExpr": "datum.value % 500 === 0 ? format(datum.value, 'd') : ''", "labelPadding": 8, "title": "t, sec", "titlePadding": 1}},
      "y": {"field": "v", "type": "quantitative", "scale": {"domain": [-0.000169, 0.004245], "nice": false, "zero": false},
        "axis": {"orient": "left", "values": [0,0.00025,0.0005,0.00075,0.001,0.00125,0.0015,0.00175,0.002,0.00225,0.0025,0.00275,0.003,0.00325,0.0035,0.00375,0.004], "labelExpr": "abs(datum.value * 1000 - round(datum.value * 1000)) < 0.001 ? format(datum.value, '.3~f') : ''", "labelAngle": 270, "labelAlign": "center", "labelBaseline": "bottom", "title": "d(ΔF/10⁶, rfu) / dt", "titleFontSize": 16.5, "titlePadding": 21}},
      "stroke": {"field": "k", "type": "nominal",
        "scale": {"domain": ["120","110","100","90","80","70","60","50","40","30","20","10"], "range": ["#ff3030","#3030ff","#008000","#c71585","#a0522d","#40c0c0","#ffa040","#a020f0","#00bfff","#33cc33","#a0a8b8","#000000"]},
        "legend": {"orient": "none", "legendX": 385, "legendY": 12, "title": null, "symbolType": "stroke", "symbolSize": 625, "symbolStrokeWidth": 1.2, "labelOffset": 8, "labelFontSize": 14, "rowPadding": 5, "clipHeight": 14, "padding": 0}},
      "strokeDash": {"field": "k", "type": "nominal",
        "scale": {"domain": ["120","110","100","90","80","70","60","50","40","30","20","10"], "range": [[8,4],[4,3],[8,3,2,3],[4,2,1,2],[8,2,2,2,2,2],[6,2,1,2,1,2,1,2],[1,1.5],[10,4],[5,3],[8,3,2,3],[6,3,1,3],[10,3,2,3,2,3]]},
        "legend": {"orient": "none", "legendX": 385, "legendY": 12, "title": null, "symbolType": "stroke", "symbolSize": 625, "symbolStrokeWidth": 1.2, "labelOffset": 8, "labelFontSize": 14, "rowPadding": 5, "clipHeight": 14, "padding": 0}}
     }}
   ],
   "resolve": {"axis": {"x": "independent", "y": "independent"}}
  }
 ]
}
]
}
